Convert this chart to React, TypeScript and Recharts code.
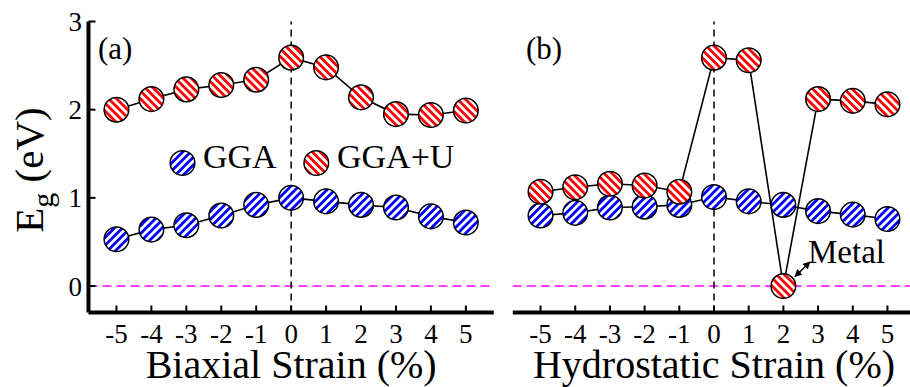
import { LineChart, Line, XAxis, YAxis, ReferenceLine } from 'recharts';

const strains = [-5, -4, -3, -2, -1, 0, 1, 2, 3, 4, 5];
const biaxialGGA = [0.53, 0.64, 0.69, 0.8, 0.92, 1.0, 0.96, 0.92, 0.89, 0.79, 0.72];
const biaxialGGAU = [2.0, 2.12, 2.23, 2.28, 2.34, 2.59, 2.48, 2.14, 1.95, 1.94, 1.99];
const hydroGGA = [0.8, 0.83, 0.89, 0.9, 0.92, 1.01, 0.96, 0.92, 0.85, 0.81, 0.76];
const hydroGGAU = [1.07, 1.12, 1.16, 1.14, 1.07, 2.59, 2.56, 0.0, 2.12, 2.1, 2.06];
const yTicks = [0, 1, 2, 3];

const biaxialData = strains.map((s, i) => ({ strain: s, gga: biaxialGGA[i], ggaU: biaxialGGAU[i] }));
const hydroData = strains.map((s, i) => ({ strain: s, gga: hydroGGA[i], ggaU: hydroGGAU[i] }));

const serif = 'Liberation Serif';
const axisLine = { stroke: '#000', strokeWidth: 4 };
const tickLine = { stroke: '#000', strokeWidth: 2 };
const tickFont = { fontSize: 27, fill: '#000', fontFamily: serif };
const blank = () => '';

const Hatches = ({ suffix }: { suffix: string }) => (
  <defs>
    <pattern id={'red' + suffix} width="5.6" height="5.6" patternUnits="userSpaceOnUse" patternTransform="rotate(-45)">
      <rect width="5.6" height="5.6" fill="#fff" />
      <rect width="2.8" height="5.6" fill="#ff0000" />
    </pattern>
    <pattern id={'blue' + suffix} width="5.6" height="5.6" patternUnits="userSpaceOnUse" patternTransform="rotate(45)">
      <rect width="5.6" height="5.6" fill="#fff" />
      <rect width="2.8" height="5.6" fill="#0000ff" />
    </pattern>
    <marker id={'arrow' + suffix} viewBox="0 0 10 10" refX="9" refY="5" markerWidth="5" markerHeight="5" orient="auto-start-reverse">
      <path d="M0,0 L10,5 L0,10 z" fill="#000" />
    </marker>
  </defs>
);

const dotStyle = (fill: string) => ({ r: 12.3, fill, stroke: '#000', strokeWidth: 1.5 });

const xTitle = (text: string) => (props: any) => {
  const vb = props.viewBox || {};
  return (
    <text x={vb.x + vb.width / 2} y={378} textAnchor="middle" fontSize={40} fontFamily={serif} fill="#000">
      {text}
    </text>
  );
};

const yTitle = () => (
  <text transform="rotate(-90, 43, 170)" x={43} y={170} textAnchor="middle" fontSize={41} fontFamily={serif} fill="#000">
    E<tspan fontSize={30} dy={10}>g</tspan>
    <tspan dy={-10}> (eV)</tspan>
  </text>
);

export default function App() {
  return (
    <div style={{ position: 'absolute', left: 0, top: 0, width: 910, height: 387, overflow: 'hidden', background: '#fff', fontFamily: serif }}>
      <div style={{ position: 'absolute', left: 0, top: 0 }}>
        <LineChart width={500} height={387} data={biaxialData} margin={{ top: 21.5, left: 28.5, right: 6.2, bottom: 14.5 }}>
          <Hatches suffix="A" />
          <XAxis dataKey="strain" type="number" domain={[-5.8, 5.8]} ticks={strains} height={60}
            axisLine={axisLine} tickLine={tickLine} tickSize={-7} tickMargin={18.5} tick={tickFont} interval={0}
            label={xTitle('Biaxial Strain (%)')} />
          <XAxis xAxisId="top" orientation="top" type="number" domain={[-5.8, 5.8]} ticks={strains} height={0}
            axisLine={axisLine} tickLine={tickLine} tickSize={-7} tickFormatter={blank} interval={0} />
          <YAxis type="number" domain={[-0.3, 3]} ticks={yTicks} width={60}
            axisLine={axisLine} tickLine={tickLine} tickSize={-7} tickMargin={13.5} tick={tickFont} interval={0}
            label={yTitle} />
          <YAxis yAxisId="right" orientation="right" type="number" domain={[-0.3, 3]} ticks={yTicks} width={0}
            axisLine={axisLine} tickLine={tickLine} tickSize={-7} tickFormatter={blank} interval={0} />
          <ReferenceLine y={0} stroke="#ff00ff" strokeWidth={1.5} strokeDasharray="9 5" />
          <ReferenceLine x={0} stroke="#000" strokeWidth={1.5} strokeDasharray="7 5" />
          <Line dataKey="gga" stroke="#000" strokeWidth={1.6} dot={dotStyle('url(#blueA)')} isAnimationActive={false} />
          <Line dataKey="ggaU" stroke="#000" strokeWidth={1.6} dot={dotStyle('url(#redA)')} isAnimationActive={false} />
          <text x={98} y={59} fontSize={31} fontFamily={serif} fill="#000">(a)</text>
          <circle cx={182.5} cy={163} r={12.3} fill="url(#blueA)" stroke="#000" strokeWidth={1.5} />
          <text x={203} y={168} fontSize={34} fontFamily={serif} fill="#000">GGA</text>
          <circle cx={316.3} cy={163} r={12.3} fill="url(#redA)" stroke="#000" strokeWidth={1.5} />
          <text x={337} y={168} fontSize={34} fontFamily={serif} fill="#000">GGA+U</text>
        </LineChart>
      </div>
      <div style={{ position: 'absolute', left: 500, top: 0 }}>
        <LineChart width={430} height={387} data={hydroData} margin={{ top: 21.5, left: 12.8, right: 14.8, bottom: 14.5 }}>
          <Hatches suffix="B" />
          <XAxis dataKey="strain" type="number" domain={[-5.8, 5.8]} ticks={strains} height={60}
            axisLine={axisLine} tickLine={tickLine} tickSize={-7} tickMargin={18.5} tick={tickFont} interval={0}
            label={xTitle('Hydrostatic Strain (%)')} />
          <XAxis xAxisId="top" orientation="top" type="number" domain={[-5.8, 5.8]} ticks={strains} height={0}
            axisLine={axisLine} tickLine={tickLine} tickSize={-7} tickFormatter={blank} interval={0} />
          <YAxis type="number" domain={[-0.3, 3]} ticks={yTicks} width={0}
            axisLine={axisLine} tickLine={tickLine} tickSize={-7} tickFormatter={blank} interval={0} />
          <YAxis yAxisId="right" orientation="right" type="number" domain={[-0.3, 3]} ticks={yTicks} width={0}
            axisLine={axisLine} tickLine={tickLine} tickSize={-7} tickFormatter={blank} interval={0} />
          <ReferenceLine y={0} stroke="#ff00ff" strokeWidth={1.5} strokeDasharray="9 5" />
          <ReferenceLine x={0} stroke="#000" strokeWidth={1.5} strokeDasharray="7 5" />
          <Line dataKey="gga" stroke="#000" strokeWidth={1.6} dot={dotStyle('url(#blueB)')} isAnimationActive={false} />
          <Line dataKey="ggaU" stroke="#000" strokeWidth={1.6} dot={dotStyle('url(#redB)')} isAnimationActive={false} />
          <text x={26} y={59} fontSize={31} fontFamily={serif} fill="#000">(b)</text>
          <line x1={310} y1={262} x2={295} y2={276.5} stroke="#000" strokeWidth={1.5}
            markerStart="url(#arrowB)" markerEnd="url(#arrowB)" />
          <text x={308} y={263} fontSize={33} fontFamily={serif} fill="#000">Metal</text>
        </LineChart>
      </div>
    </div>
  );
}
